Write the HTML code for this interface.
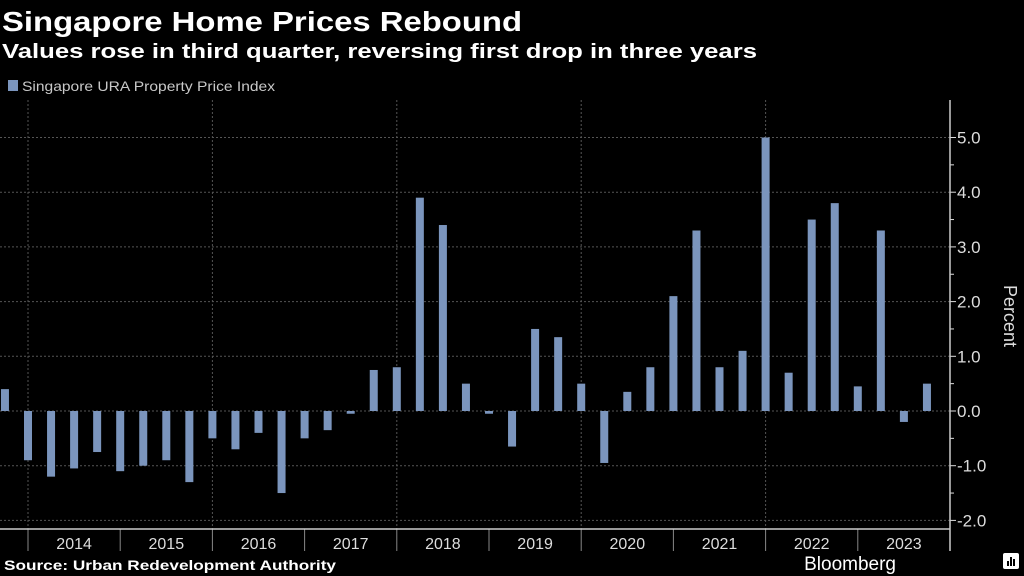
<!DOCTYPE html>
<html><head><meta charset="utf-8"><style>
html,body{margin:0;padding:0;background:#000;width:1024px;height:576px;overflow:hidden}
svg{display:block;font-family:"Liberation Sans",sans-serif}
</style></head><body>
<svg id="chart" width="1024" height="576" viewBox="0 0 1024 576">
<text x="2" y="31" fill="#fff" font-size="28" font-weight="bold" textLength="520" lengthAdjust="spacingAndGlyphs">Singapore Home Prices Rebound</text>
<text x="2" y="58" fill="#fff" font-size="20" font-weight="bold" textLength="755" lengthAdjust="spacingAndGlyphs">Values rose in third quarter, reversing first drop in three years</text>
<g>
<rect x="8" y="80" width="10" height="11" fill="#7b95bd"/>
<text x="22" y="91" fill="#c8c8c8" font-size="14" textLength="253" lengthAdjust="spacingAndGlyphs">Singapore URA Property Price Index</text>
</g>
<g id="grid"></g>
<g id="bars"></g>
<g id="axes"></g>
<text transform="translate(1004,316) rotate(90)" fill="#ddd" font-size="18" text-anchor="middle">Percent</text>
<text x="4" y="570" fill="#fff" font-size="14" font-weight="bold" textLength="332" lengthAdjust="spacingAndGlyphs">Source: Urban Redevelopment Authority</text>
<text x="896" y="570" fill="#fff" font-size="19" text-anchor="end">Bloomberg</text>
<g><rect x="1003" y="553" width="16" height="16" rx="2" fill="#fff"/><rect x="1007" y="561" width="2" height="5" fill="#000"/><rect x="1010" y="557" width="2" height="9" fill="#000"/><rect x="1013" y="559" width="2" height="7" fill="#000"/></g>
</svg>
<script>
const values = [0.4, -0.9, -1.2, -1.05, -0.75, -1.1, -1.0, -0.9, -1.3, -0.5, -0.7, -0.4, -1.5, -0.5, -0.35, -0.05, 0.75, 0.8, 3.9, 3.4, 0.5, -0.05, -0.65, 1.5, 1.35, 0.5, -0.95, 0.35, 0.8, 2.1, 3.3, 0.8, 1.1, 5.0, 0.7, 3.5, 3.8, 0.45, 3.3, -0.2, 0.5];
const yearLabels = ["2014","2015","2016","2017","2018","2019","2020","2021","2022","2023"];
const yTicks = [-2, -1, 0, 1, 2, 3, 4, 5];
const yTickLabels = ["-2.0","-1.0","0.0","1.0","2.0","3.0","4.0","5.0"];
const NS="http://www.w3.org/2000/svg";
const plotL=0, plotR=950, plotT=100, plotB=529;
const y0=411, pxPerUnit=54.7;
function yScale(v){return y0 - v*pxPerUnit;}
const step=23.05, x1=28;
function xScale(i){return x1 + (i-1)*step;}
function mk(tag,attrs,parent){const e=document.createElementNS(NS,tag);for(const k in attrs)e.setAttribute(k,attrs[k]);parent.appendChild(e);return e;}
const grid=document.getElementById('grid'), bars=document.getElementById('bars'), axes=document.getElementById('axes');
yTicks.forEach((t,k)=>{
  const y=yScale(t);
  const l=mk('line',{x1:plotL,x2:plotR,y1:y,y2:y,stroke:'#555','stroke-dasharray':'2,2','stroke-width':1},grid);
  
  
  const tk=mk('line',{x1:plotR,x2:plotR+6,y1:y,y2:y,stroke:'#ddd','stroke-width':1},axes);
  
  
  const tx=mk('text',{x:plotR+7,y:y+6,fill:'#ddd','font-size':17},axes);
  tx.textContent=yTickLabels[k];
  
  
  const m=yScale(t+0.5);
  if(t<5){const mt=mk('line',{x1:plotR,x2:plotR+4,y1:m,y2:m,stroke:'#ddd','stroke-width':1},axes);
  
  }
});
yearLabels.forEach((yr,k)=>{
  const xa=xScale(1+4*k), xb=xScale(5+4*k);
  if(k%2===0){
    const g=mk('line',{x1:xa,x2:xa,y1:plotT,y2:plotB,stroke:'#555','stroke-dasharray':'2,2','stroke-width':1},grid);
    
    
  }
  const sep=mk('line',{x1:xa,x2:xa,y1:plotB,y2:plotB+22,stroke:'#888','stroke-width':1},axes);
  
  
  const tx=mk('text',{x:(xa+Math.min(xb,plotR))/2,y:plotB+20,fill:'#ddd','font-size':16,'text-anchor':'middle'},axes);
  tx.textContent=yr;
  
  
});
values.forEach((v,i)=>{
  const cx=xScale(i), y=yScale(Math.max(v,0)), h=Math.max(Math.abs(v)*pxPerUnit,1.5);
  const r=mk('rect',{x:cx-4,y:y,width:8,height:h,fill:'#7b95bd'},bars);
  
  
});
const ax=mk('line',{x1:0,x2:plotR,y1:plotB,y2:plotB,stroke:'#ccc','stroke-width':1.5},axes);


const ay=mk('line',{x1:plotR,x2:plotR,y1:plotT,y2:plotB+22,stroke:'#ccc','stroke-width':1.5},axes);


</script>
</body></html>
